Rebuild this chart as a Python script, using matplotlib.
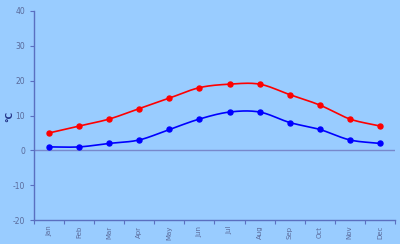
import numpy as np
import matplotlib
matplotlib.use("Agg")
from matplotlib import pyplot as plt

plt.rcParams['axes.unicode_minus'] = False

months = ['Jan', 'Feb', 'Mar', 'Apr', 'May', 'Jun',
          'Jul', 'Aug', 'Sep', 'Oct', 'Nov', 'Dec']
high = [5, 7, 9, 12, 15, 18, 19, 19, 16, 13, 9, 7]
low = [1, 1, 2, 3, 6, 9, 11, 11, 8, 6, 3, 2]

bg = '#99ccff'
axis_col = '#5a6fc0'
text_col = '#5a6a9a'


def smooth(x, y, n=20):
    """ catmull-rom style curve through the points, like excel's smoothing """
    x = np.asarray(x, float)
    y = np.asarray(y, float)
    px = np.concatenate([[2 * x[0] - x[1]], x, [2 * x[-1] - x[-2]]])
    py = np.concatenate([[2 * y[0] - y[1]], y, [2 * y[-1] - y[-2]]])
    xs, ys = [], []
    t = np.linspace(0, 1, n, endpoint=False)
    for i in range(1, len(px) - 2):
        for p, out in ((px, xs), (py, ys)):
            p0, p1, p2, p3 = p[i - 1], p[i], p[i + 1], p[i + 2]
            out.extend(0.5 * (2 * p1 + (-p0 + p2) * t
                              + (2 * p0 - 5 * p1 + 4 * p2 - p3) * t ** 2
                              + (-p0 + 3 * p1 - 3 * p2 + p3) * t ** 3))
    xs.append(x[-1])
    ys.append(y[-1])
    return xs, ys


fig = plt.figure(figsize=(4, 2.44), dpi=100, facecolor=bg)
ax = fig.add_axes([0.085, 0.098, 0.9025, 0.857], facecolor=bg)

x = np.arange(len(months))
for data, col in ((high, '#ff0000'), (low, '#0000ff')):
    sx, sy = smooth(x, data)
    ax.plot(sx, sy, color=col, lw=1.2, zorder=3)
    ax.plot(x, data, 'o', color=col, ms=3.6, zorder=4)

ax.axhline(0, color='#7788cc', lw=1, zorder=2)

ax.set_xlim(-0.5, 11.5)
ax.set_ylim(-20, 40)
ax.set_yticks(range(-20, 41, 10))
ax.set_xticks(x)
ax.set_xticklabels(months, rotation=90)
ax.set_xticks(np.arange(-0.5, 12, 1), minor=True)
ax.tick_params(axis='x', which='major', length=0, labelsize=5, colors=text_col, pad=4)
ax.tick_params(axis='x', which='minor', length=3, color=axis_col, width=0.8)
ax.tick_params(axis='y', length=3, color=axis_col, labelsize=5.5, labelcolor=text_col, width=0.8)

for s in ('top', 'right'):
    ax.spines[s].set_visible(False)
for s in ('left', 'bottom'):
    ax.spines[s].set_color(axis_col)
    ax.spines[s].set_linewidth(1)

fig.text(10 / 400, 1 - 116 / 244, '°C', color='#223388', fontsize=6.5,
         fontweight='bold', rotation=90, ha='center', va='center')

fig.savefig('out.png', dpi=100, facecolor=bg)
